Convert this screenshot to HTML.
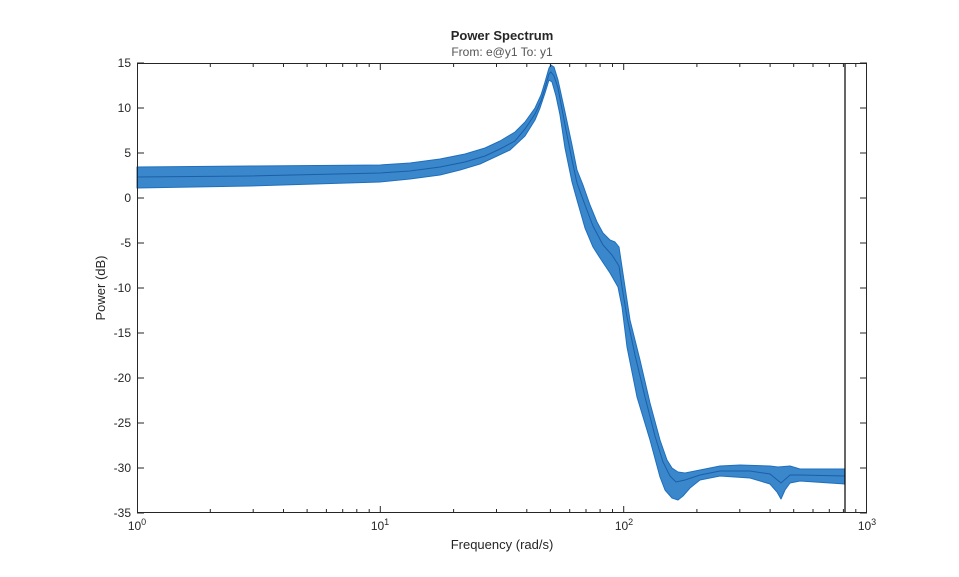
<!DOCTYPE html>
<html><head><meta charset="utf-8"><style>
html,body{margin:0;padding:0;background:#fff;}
svg{display:block;font-family:"Liberation Sans",sans-serif;}
</style></head><body>
<svg width="959" height="577" viewBox="0 0 959 577">
<rect width="959" height="577" fill="#fff"/>
<text x="502" y="40" text-anchor="middle" font-size="13" font-weight="bold" fill="#262626">Power Spectrum</text>
<text x="502" y="56" text-anchor="middle" font-size="12" fill="#555">From: e@y1  To: y1</text>
<path d="M137,167 L250,166 L380,165 L410,163 L440,159 L465,154 L485,148 L500,141 L515,132 L525,122 L535,108 L541,95 L545,82 L549,68 L551,65 L554,67 L558,80 L565,112 L572,145 L577,170 L583,185 L590,205 L597,222 L603,233 L610,240 L615,242 L619,247 L622,267 L625,287 L630,320 L640,360 L650,403 L660,440 L667,460 L672,468 L678,472 L685,473 L700,470 L720,466 L740,465 L770,466 L778,467 L790,466 L800,469 L845,469 L845,484 L800,481 L790,483 L785,490 L781,499 L777,492 L770,484 L750,478 L720,476 L700,480 L690,488 L683,496 L678,500 L672,498 L665,490 L660,477 L650,440 L637,397 L627,347 L622,307 L618,287 L610,273 L600,258 L593,247 L585,228 L577,200 L572,182 L565,148 L560,115 L556,96 L552,82 L549,80 L545,93 L540,108 L535,120 L525,136 L510,150 L495,157 L480,164 L460,170 L440,175 L410,179 L380,182 L250,186 L137,188 Z" fill="#3b87cb" stroke="#1f6fbd" stroke-width="1" stroke-linejoin="round"/>
<path d="M137,177 L250,176 L380,173 L410,171 L440,167 L465,162 L485,156 L500,149 L515,141 L525,129 L535,114 L541,101 L545,88 L549,74 L551,72 L554,76 L558,88 L565,125 L572,160 L577,183 L585,205 L593,226 L603,245 L612,255 L619,266 L622,287 L627,317 L635,355 L645,397 L655,436 L663,462 L670,476 L676,482 L685,480 L700,475 L720,471 L750,471 L770,474 L781,483 L790,475 L800,475 L845,476" fill="none" stroke="#1a5fa8" stroke-width="1"/>
<line x1="845" y1="63" x2="845" y2="513" stroke="#000" stroke-width="1.2"/>
<rect x="137.5" y="63.5" width="729" height="449" fill="none" stroke="#262626" stroke-width="1"/>
<g stroke="#262626" stroke-width="1">
<path d="M137,63H144M867,63H860M137,108H144M867,108H860M137,153H144M867,153H860M137,198H144M867,198H860M137,243H144M867,243H860M137,288H144M867,288H860M137,333H144M867,333H860M137,378H144M867,378H860M137,423H144M867,423H860M137,468H144M867,468H860M137,513H144M867,513H860"/>
<path d="M380.3,513V506M623.7,513V506M380.3,63V70M623.7,63V70
M210.3,513V509M253.2,513V509M283.5,513V509M307.1,513V509M326.4,513V509M342.7,513V509M356.8,513V509M369.2,513V509
M453.6,513V509M496.5,513V509M526.8,513V509M550.4,513V509M569.7,513V509M586.0,513V509M600.1,513V509M612.5,513V509
M696.9,513V509M739.8,513V509M770.1,513V509M793.7,513V509M813.0,513V509M829.3,513V509M843.4,513V509M855.8,513V509
M210.3,63V67M253.2,63V67M283.5,63V67M307.1,63V67M326.4,63V67M342.7,63V67M356.8,63V67M369.2,63V67
M453.6,63V67M496.5,63V67M526.8,63V67M550.4,63V67M569.7,63V67M586.0,63V67M600.1,63V67M612.5,63V67
M696.9,63V67M739.8,63V67M770.1,63V67M793.7,63V67M813.0,63V67M829.3,63V67M843.4,63V67M855.8,63V67"/>
</g>
<g font-size="12" fill="#262626" text-anchor="end">
<text x="131" y="67">15</text><text x="131" y="112">10</text><text x="131" y="157">5</text><text x="131" y="202">0</text><text x="131" y="247">-5</text><text x="131" y="292">-10</text><text x="131" y="337">-15</text><text x="131" y="382">-20</text><text x="131" y="427">-25</text><text x="131" y="472">-30</text><text x="131" y="517">-35</text>
</g>
<g font-size="12" fill="#262626" text-anchor="middle">
<text x="137" y="530">10<tspan font-size="9" dy="-5">0</tspan></text>
<text x="380" y="530">10<tspan font-size="9" dy="-5">1</tspan></text>
<text x="624" y="530">10<tspan font-size="9" dy="-5">2</tspan></text>
<text x="867" y="530">10<tspan font-size="9" dy="-5">3</tspan></text>
</g>
<text x="502" y="549" text-anchor="middle" font-size="13" fill="#262626">Frequency  (rad/s)</text>
<text transform="translate(105,288) rotate(-90)" text-anchor="middle" font-size="13" fill="#262626">Power (dB)</text>
</svg>
</body></html>
